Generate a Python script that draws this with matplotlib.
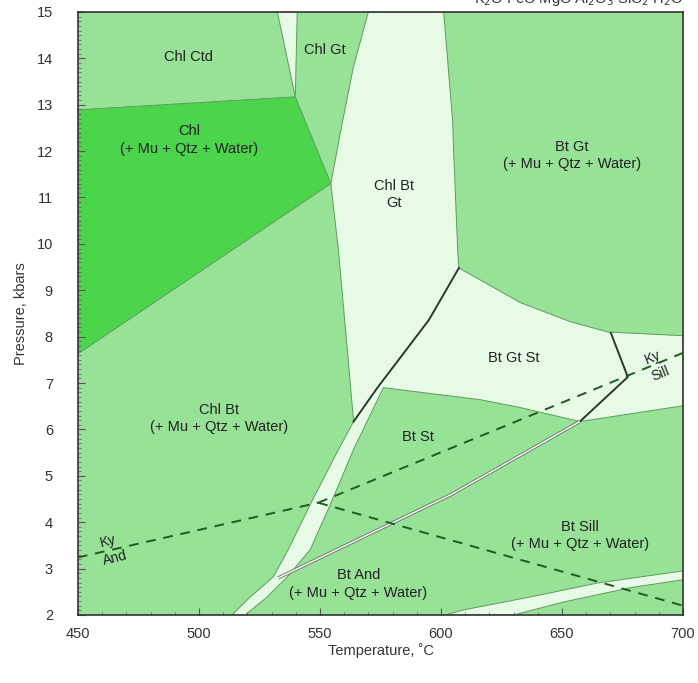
import matplotlib
matplotlib.use("Agg")
import matplotlib.pyplot as plt
import numpy as np
from matplotlib.patches import Polygon
from matplotlib.ticker import MultipleLocator

plt.rcParams['font.family'] = ['Liberation Sans', 'DejaVu Sans']

# colours
MID = '#98e298'
BRIGHT = '#4cd44c'
PALE = '#e6fae6'
EDGE = '#5c9c5c'

# --- phase field outlines (T in C, P in kbar) ---
# small pale wedge at top between Chl Ctd and Chl Gt
wedge_T = [532.4, 540.6, 539.8]
wedge_P = [15.0, 15.0, 13.17]

# Chl (+ Mu + Qtz + Water) field
chl_T = [450, 539.8, 554.5, 450]
chl_P = [12.89, 13.17, 11.30, 7.63]

# big pale field: Chl Bt Gt, Bt Gt St, Ky/Sill corner and the narrow strip
pale_T = [570.0, 601.1, 604.8, 605.2, 606.9, 607.4, 633.0, 653.6, 669.0, 700.0,
          700.0, 657.4, 632.9, 616.4, 576.2, 563.8, 555.1, 546.0, 536.5, 528.2,
          519.1, 513.7, 521.2, 530.7, 536.9, 546.9, 557.6, 563.9, 561.3, 557.6,
          554.5, 558.4, 563.8]
pale_P = [15.0, 15.0, 12.67, 12.03, 9.87, 9.48, 8.73, 8.32, 8.10, 8.02,
          6.51, 6.17, 6.47, 6.64, 6.90, 5.56, 4.48, 3.41, 2.82, 2.39,
          2.0, 2.0, 2.39, 2.82, 3.41, 4.48, 5.56, 6.17, 7.72, 9.87,
          11.30, 12.39, 13.81]

# pale band at lower right
band_T = [601.9, 609.4, 637.1, 664.8, 700.0, 700.0, 678.5, 650.7, 630.0]
band_P = [2.0, 2.11, 2.39, 2.69, 2.95, 2.76, 2.59, 2.28, 2.0]

# solid reaction lines
rx1_T = [563.9, 573.6, 595.0, 607.4]
rx1_P = [6.17, 6.89, 8.36, 9.48]
rx2_T = [670.2, 677.2, 657.4]
rx2_P = [8.08, 7.13, 6.17]
# double line (Bt St out)
rx3_T = [657.4, 604.0, 532.8]
rx3_P = [6.17, 4.59, 2.80]

# Al2SiO5 dashed lines
kyand_T = [450.0, 549.3]
kyand_P = [3.24, 4.42]
kysill_T = [549.3, 700.0]
kysill_P = [4.42, 7.65]
silland_T = [549.3, 700.0]
silland_P = [4.42, 2.20]

fields = [
    (495.5, 14.03, 'Chl Ctd'),
    (552.2, 14.18, 'Chl Gt'),
    (496.0, 12.24, 'Chl\n(+ Mu + Qtz + Water)'),
    (580.4, 11.06, 'Chl Bt\nGt'),
    (654.0, 11.90, 'Bt Gt\n(+ Mu + Qtz + Water)'),
    (630.0, 7.54, 'Bt Gt St'),
    (508.4, 6.23, 'Chl Bt\n(+ Mu + Qtz + Water)'),
    (590.3, 5.84, 'Bt St'),
    (657.4, 3.71, 'Bt Sill\n(+ Mu + Qtz + Water)'),
    (565.9, 2.67, 'Bt And\n(+ Mu + Qtz + Water)'),
]

# small labels either side of the Al2SiO5 lines: (T, P, text, angle)
al_labels = [
    (462.5, 3.58, 'Ky', 14),
    (465.5, 3.22, 'And', 14),
    (687.5, 7.55, 'Ky', 22),
    (690.5, 7.20, 'Sill', 22),
]

fig = plt.figure(figsize=(6.98, 6.83), dpi=100)
ax = fig.add_axes([0.1117, 0.0996, 0.8668, 0.8829])
ax.set_facecolor(MID)

for T, P, col in [(wedge_T, wedge_P, PALE), (chl_T, chl_P, BRIGHT),
                  (pale_T, pale_P, PALE), (band_T, band_P, PALE)]:
    ax.add_patch(Polygon(np.column_stack([T, P]), closed=True, facecolor=col,
                         edgecolor=EDGE, lw=0.7, zorder=1))

ax.plot(rx1_T, rx1_P, color='#2a3a2a', lw=1.4, zorder=3)
ax.plot(rx2_T, rx2_P, color='#2a3a2a', lw=1.4, zorder=3)
ax.plot(rx3_T, rx3_P, color='#6a7a6a', lw=2.4, zorder=3, solid_capstyle='butt')
ax.plot(rx3_T, rx3_P, color='white', lw=1.0, zorder=3, solid_capstyle='butt')

for T, P in [(kyand_T, kyand_P), (kysill_T, kysill_P), (silland_T, silland_P)]:
    ax.plot(T, P, color='#1f5a1f', lw=1.4, ls=(0, (5, 4)), zorder=4)

for T, P, s in fields:
    ax.text(T, P, s, ha='center', va='center', fontsize=10.5, color='#222222',
            linespacing=1.3, zorder=5)

for T, P, s, ang in al_labels:
    ax.text(T, P, s, fontsize=10, color='#222222', rotation=ang,
            ha='center', va='center', zorder=5)

ax.set_xlim(450, 700)
ax.set_ylim(2, 15)
ax.xaxis.set_major_locator(MultipleLocator(50))
ax.xaxis.set_minor_locator(MultipleLocator(10))
ax.yaxis.set_major_locator(MultipleLocator(1))
ax.yaxis.set_minor_locator(MultipleLocator(0.1))
ax.tick_params(which='both', direction='in', colors='#555555', labelcolor='#333333',
               labelsize=10.5)
ax.tick_params(which='major', length=5, width=0.8)
ax.tick_params(which='minor', length=2.5, width=0.5)
ax.tick_params(axis='x', pad=9)
ax.tick_params(axis='y', pad=18)
for sp in ax.spines.values():
    sp.set_color('#333333')
    sp.set_linewidth(1.2)

ax.set_xlabel('Temperature, ˚C', fontsize=10.5, color='#333333', labelpad=1)
ax.set_ylabel('Pressure, kbars', fontsize=10.5, color='#333333', labelpad=6)

fig.text(0.9785, 0.995, r'K$_2$O FeO MgO Al$_2$O$_3$ SiO$_2$ H$_2$O', ha='right',
         va='baseline', fontsize=10.5, color='#333333')

fig.savefig('out.png', dpi=100)
